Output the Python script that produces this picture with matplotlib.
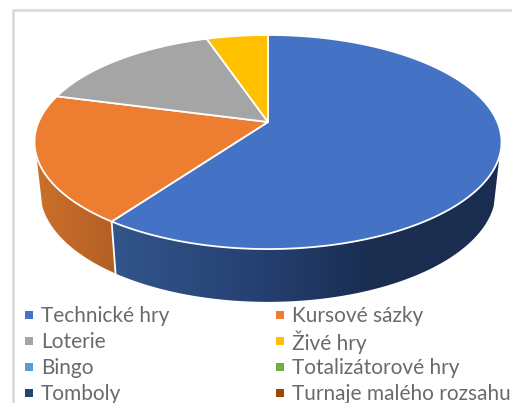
#!/usr/bin/env python3

import numpy as np
import matplotlib
matplotlib.use("Agg")
import matplotlib.pyplot as plt
from matplotlib.colors import LinearSegmentedColormap
from matplotlib.patches import Polygon

# Data (share in percent)
labels = ["Technické hry", "Kursové sázky", "Loterie", "Živé hry",
          "Bingo", "Totalizátorové hry", "Tomboly", "Turnaje malého rozsahu"]
values = [59.8, 19.4, 15.7, 5.1, 0.0, 0.0, 0.0, 0.0]
colors = ["#4472C4", "#ED7D31", "#A5A5A5", "#FFC000",
          "#5B9BD5", "#70AD47", "#264478", "#9E480E"]

# Wall shading, left to right across the whole pie
blue_wall = LinearSegmentedColormap.from_list(
    "blue_wall", [(0, "#34588F"), (0.17, "#32558B"), (0.5, "#243F6F"), (0.72, "#1A2D50"), (1, "#1A2D50")])
orange_wall = LinearSegmentedColormap.from_list(
    "orange_wall", [(0, "#CB702C"), (0.17, "#B45F24"), (1, "#B45F24")])
wall_maps = {0: blue_wall, 1: orange_wall}

fig = plt.figure(figsize=(5.12, 4.03), dpi=100)
ax = fig.add_axes([0, 0, 1, 1])

# Perspective of the pie: flat circle -> picture coordinates
cx, cy = 268.0, 122.0
k = 0.187
A, B = 229.4, 103.3


def project(theta):
    # theta is clockwise from the top, in radians
    u, v = np.sin(theta), np.cos(theta)
    return A * u / (1 + k * v), B * v / (1 + k * v)


def top_xy(theta):
    X, Y = project(theta)
    return cx + X, cy - Y


def bottom_xy(theta):
    X, Y = project(theta)
    return cx + 0.975 * X, cy - (1.03 * Y - 49)


# Frame of the chart area
ax.plot([12.5, 12.5, 512], [403, 10, 10], color="#D9D9D9", lw=1.8, zorder=1)

fractions = np.array(values) / sum(values)
edges = np.concatenate([[0], np.cumsum(fractions)]) * 2 * np.pi

# Side wall, only the first two slices can be seen from the front
gradient = np.linspace(0, 1, 512).reshape(1, -1)
for i in [0, 1]:
    start = max(edges[i], np.radians(108))
    end = min(edges[i + 1], np.radians(252))
    angles = np.linspace(start, end, 200)
    xt, yt = top_xy(angles)
    xb, yb = bottom_xy(angles)
    wall = Polygon(np.column_stack([np.r_[xt, xb[::-1]], np.r_[yt, yb[::-1]]]),
                   transform=ax.transData, facecolor="none", edgecolor="none")
    ax.add_patch(wall)
    im = ax.imshow(gradient, cmap=wall_maps[i], extent=[35, 502, 403, 0],
                   aspect="auto", interpolation="bilinear", zorder=2)
    im.set_clip_path(wall)

ax.set_xlim(0, 512)
ax.set_ylim(403, 0)
ax.axis("off")

# White seam on the wall between the two slices
x0, y0 = top_xy(edges[1])
x1, y1 = bottom_xy(edges[1])
ax.plot([x0, x1], [y0, y1], color="white", lw=1.3, zorder=3)

# Top face
for i in range(len(values)):
    if values[i] <= 0:
        continue
    angles = np.linspace(edges[i], edges[i + 1], 200)
    xs, ys = top_xy(angles)
    ax.fill(np.r_[cx, xs], np.r_[cy, ys], facecolor=colors[i],
            edgecolor="white", lw=1.3, joinstyle="round", zorder=4)

# Legend
row_y = [315, 341, 367, 393]
col_x = [29, 280]
text_x = [41, 292]
for i, name in enumerate(labels):
    r, c = i // 2, i % 2
    ax.scatter([col_x[c]], [row_y[r]], marker="s", s=28, color=colors[i], lw=0, zorder=5)
    ax.text(text_x[c], row_y[r] + 1, name, fontsize=15, family="Lato", color="#6A6A6A",
            va="center", ha="left", zorder=5)

fig.savefig("out.png", dpi=100)
